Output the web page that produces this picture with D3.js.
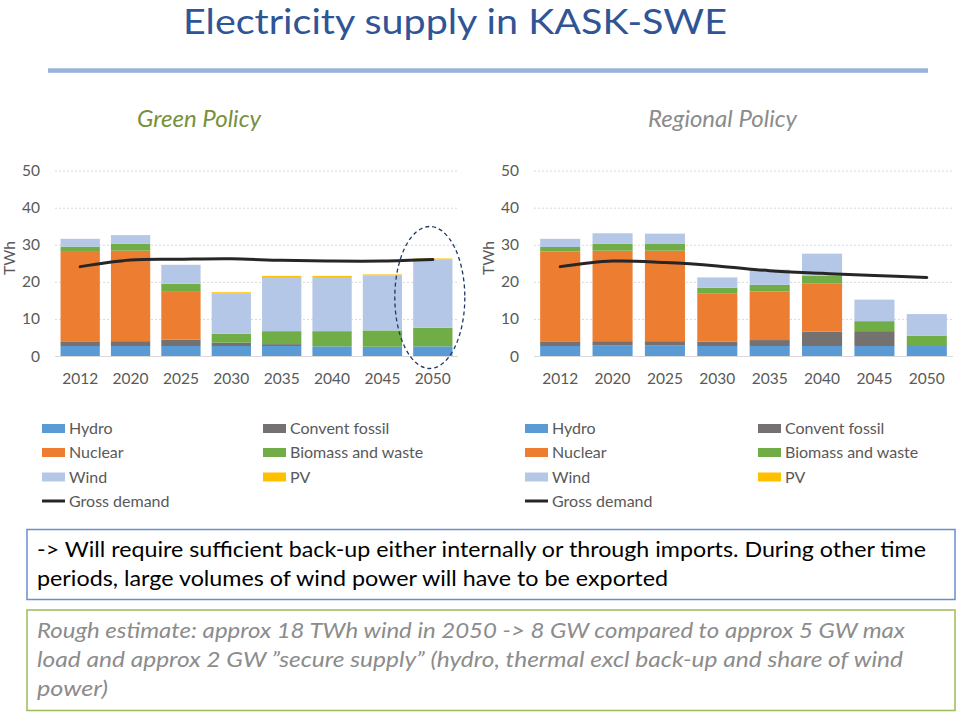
<!DOCTYPE html>
<html><head><meta charset="utf-8">
<script src="https://cdn.jsdelivr.net/npm/d3@7"></script>
<style>
html,body{margin:0;padding:0;background:#fff;}
svg{display:block;font-family:Lato,"Open Sans",sans-serif;}
</style></head>
<body>
<svg id="c" width="960" height="713"></svg>
<script>
const years = ["2012","2020","2025","2030","2035","2040","2045","2050"];
const seriesNames = ["Hydro","Convent fossil","Nuclear","Biomass and waste","Wind","PV"];
const seriesColors = ["#5B9BD5","#767171","#ED7D31","#70AD47","#B4C7E7","#FFC000"];
const yTicks = [0,10,20,30,40,50];

// Green Policy (TWh)
const greenHydro   = [2.7,2.7,2.7,2.7,2.7,2.6,2.5,2.6];
const greenFossil  = [1.1,1.3,1.7,0.9,0.5,0,0,0];
const greenNuclear = [24.5,24.4,12.9,0,0,0,0,0];
const greenBiomass = [1.2,1.9,2.2,2.4,3.5,4.1,4.4,5.0];
const greenWind    = [2.1,2.3,5.1,10.9,14.6,14.6,14.8,18.4];
const greenPV      = [0,0,0,0.3,0.3,0.3,0.3,0.3];
const greenDemand  = [24.1,25.9,26.1,26.2,25.8,25.6,25.6,26.0];

// Regional Policy (TWh)
const regHydro   = [2.7,2.8,2.8,2.7,2.7,2.7,2.7,2.7];
const regFossil  = [1.1,1.2,1.2,1.2,1.6,3.9,4.0,0];
const regNuclear = [24.4,24.4,24.4,12.9,13.1,12.9,0,0];
const regBiomass = [1.2,1.9,1.8,1.6,1.8,2.2,2.7,2.8];
const regWind    = [2.2,2.8,2.8,2.8,4.1,5.9,5.8,5.8];
const regPV      = [0,0,0,0,0,0,0,0];
const regDemand  = [24.1,25.6,25.2,24.3,23.0,22.3,21.7,21.2];

const svg = d3.select("#c");
const txt = "#595959";

// Title
svg.append("text").attr("x",183).attr("y",34).attr("font-size",34)
  .attr("textLength",544).attr("lengthAdjust","spacingAndGlyphs")
  .attr("fill","#2F5597").text("Electricity supply in KASK-SWE");
svg.append("rect").attr("x",48).attr("y",68.3).attr("width",880).attr("height",4.5).attr("fill","#9AB3DC");

svg.append("text").attr("x",137).attr("y",127).attr("font-size",23)
  .attr("textLength",124).attr("lengthAdjust","spacingAndGlyphs").attr("font-style","italic")
  .attr("fill","#76923C").text("Green Policy");
svg.append("text").attr("x",648).attr("y",127).attr("font-size",23)
  .attr("textLength",149).attr("lengthAdjust","spacingAndGlyphs").attr("font-style","italic")
  .attr("fill","#8C8C8C").text("Regional Policy");

function makeRows(h,f,n,b,w,p){
  return years.map((yr,i)=>({year:yr,"Hydro":h[i],"Convent fossil":f[i],"Nuclear":n[i],
    "Biomass and waste":b[i],"Wind":w[i],"PV":p[i]}));
}

function drawChart(opts){
  const g = svg.append("g");
  const x = d3.scaleBand().domain(years).range([opts.x0,opts.x1]).paddingInner(opts.pad).paddingOuter(opts.pad/2);
  const y = d3.scaleLinear().domain([0,50]).range([356,170.6]);
  g.selectAll("line.grid").data(yTicks).join("line")
    .attr("x1",opts.x0).attr("x2",opts.x1)
    .attr("y1",d=>y(d)+0.5).attr("y2",d=>y(d)+0.5)
    .attr("stroke","#D9D9D9").attr("stroke-width",1)
    .attr("stroke-dasharray",d=>d===0?null:"2,2");
  g.selectAll("text.yt").data(yTicks).join("text")
    .attr("x",opts.x0-15).attr("y",d=>y(d)+5.5).attr("text-anchor","end")
    .attr("font-size",15.5).attr("fill",txt).text(d=>d);
  g.append("text").attr("transform",`translate(${opts.tx},258) rotate(-90)`)
    .attr("text-anchor","middle").attr("font-size",15.5).attr("fill",txt).text("TWh");
  const stack = d3.stack().keys(seriesNames)(opts.rows);
  const color = d3.scaleOrdinal().domain(seriesNames).range(seriesColors);
  g.selectAll("g.s").data(stack).join("g").attr("fill",d=>color(d.key))
    .selectAll("rect").data(d=>d).join("rect")
    .attr("x",d=>x(d.data.year)).attr("width",x.bandwidth())
    .attr("y",d=>y(d[1])).attr("height",d=>Math.max(0,y(d[0])-y(d[1])));
  g.selectAll("text.xt").data(years).join("text")
    .attr("x",d=>x(d)+x.bandwidth()/2).attr("y",384).attr("text-anchor","middle")
    .attr("font-size",15.5).attr("fill",txt).text(d=>d);
  const line = d3.line().x((d,i)=>x(years[i])+x.bandwidth()/2).y(d=>y(d)).curve(d3.curveCatmullRom.alpha(0.5));
  g.append("path").datum(opts.demand).attr("d",line).attr("fill","none")
    .attr("stroke","#262626").attr("stroke-width",3).attr("stroke-linecap","round");
  return {x,y};
}

const L = drawChart({x0:55,x1:458,pad:0.22,tx:15,
  rows:makeRows(greenHydro,greenFossil,greenNuclear,greenBiomass,greenWind,greenPV),demand:greenDemand});
drawChart({x0:534,x1:953,pad:0.235,tx:494,
  rows:makeRows(regHydro,regFossil,regNuclear,regBiomass,regWind,regPV),demand:regDemand});

// dashed ellipse around 2050 (left)
svg.append("ellipse").attr("cx",L.x("2050")+L.x.bandwidth()/2-3).attr("cy",297.5)
  .attr("rx",35).attr("ry",71).attr("fill","none").attr("stroke","#203864")
  .attr("stroke-width",1.3).attr("stroke-dasharray","4,3");

// legends
function legend(x0,x1){
  const g = svg.append("g");
  const col1 = ["Hydro","Nuclear","Wind"];
  const col2 = ["Convent fossil","Biomass and waste","PV"];
  const rowsY = [428.5,452.5,477,501];
  const color = d3.scaleOrdinal().domain(seriesNames).range(seriesColors);
  [[col1,x0],[col2,x1]].forEach(([names,xx])=>{
    names.forEach((n,i)=>{
      g.append("rect").attr("x",xx).attr("y",rowsY[i]-4.5).attr("width",23).attr("height",9).attr("fill",color(n));
      g.append("text").attr("x",xx+27).attr("y",rowsY[i]+5.5).attr("font-size",16).attr("fill",txt).text(n);
    });
  });
  g.append("line").attr("x1",x0).attr("x2",x0+23).attr("y1",rowsY[3]).attr("y2",rowsY[3])
    .attr("stroke","#262626").attr("stroke-width",3);
  g.append("text").attr("x",x0+27).attr("y",rowsY[3]+5.5).attr("font-size",16).attr("fill",txt).text("Gross demand");
}
legend(42,263);
legend(525,758);

// text boxes
svg.append("rect").attr("x",27).attr("y",529.5).attr("width",928).attr("height",70)
  .attr("fill","#fff").attr("stroke","#6A8FCB").attr("stroke-width",1.5);
const l1 = [["-> Will require sufficient back-up either internally or through imports. During other time",889],
  ["periods, large volumes of wind power will have to be exported",631]];
l1.forEach(([s,w],i)=>svg.append("text").attr("x",37).attr("y",557+i*29).attr("font-size",20.5)
  .attr("textLength",w).attr("lengthAdjust","spacingAndGlyphs").attr("fill","#000").text(s));

svg.append("rect").attr("x",27).attr("y",610).attr("width",928).attr("height",100.5)
  .attr("fill","#fff").attr("stroke","#9BBB59").attr("stroke-width",1.5);
const l2 = [["Rough estimate: approx 18 TWh wind in 2050 -> 8 GW compared to approx 5 GW max",868],
  ["load and approx 2 GW \u201dsecure supply\u201d (hydro, thermal excl back-up and share of wind",866],
  ["power)",71]];
l2.forEach(([s,w],i)=>svg.append("text").attr("x",37).attr("y",638+i*29).attr("font-size",20.5)
  .attr("textLength",w).attr("lengthAdjust","spacingAndGlyphs")
  .attr("font-style","italic").attr("fill","#8C8C8C").text(s));
</script>
</body></html>
